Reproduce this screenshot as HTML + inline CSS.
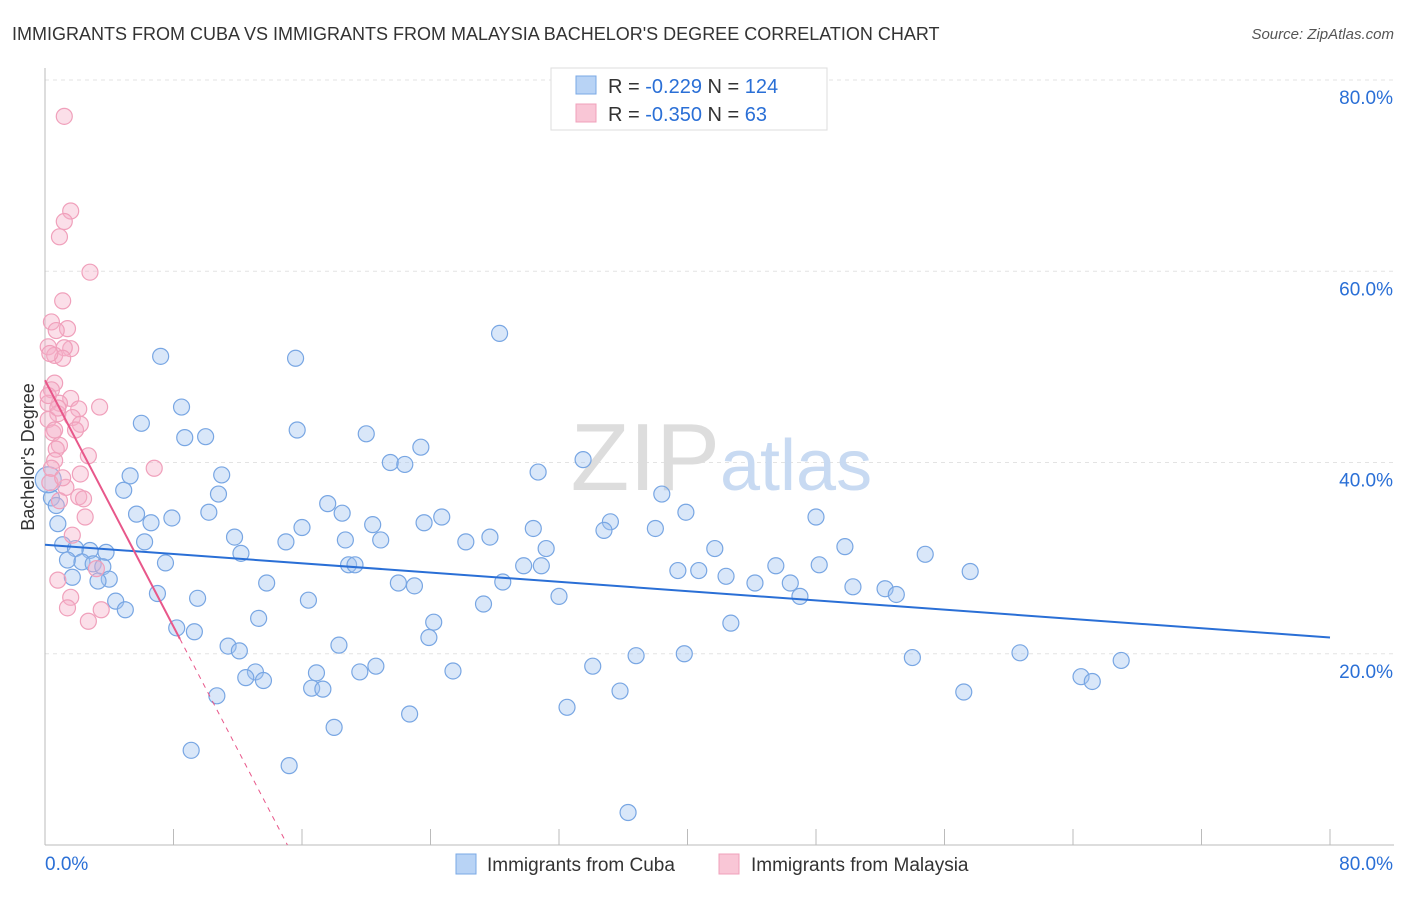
<!DOCTYPE html>
<html><head><meta charset="utf-8"><style>
body{margin:0;background:#fff;font-family:"Liberation Sans",sans-serif;}
svg text{font-family:"Liberation Sans",sans-serif;}
</style></head><body>
<svg id="chart" width="1406" height="892">
<text x="12" y="40" font-size="18" fill="#333">IMMIGRANTS FROM CUBA VS IMMIGRANTS FROM MALAYSIA BACHELOR'S DEGREE CORRELATION CHART</text>
<text x="1394" y="39" font-size="15" fill="#555" font-style="italic" text-anchor="end">Source: ZipAtlas.com</text>
<g id="grid"></g>
<text x="720" y="490" font-size="96" fill="#ddd" text-anchor="end" font-family="Liberation Serif">ZIP</text>
<text x="720" y="490" font-size="72" fill="#c8daf2">atlas</text>
<g id="axes"></g>
<g id="pts"></g>
<g id="trends"></g>
<text transform="translate(34,457) rotate(-90)" font-size="18" fill="#333" text-anchor="middle">Bachelor's Degree</text>
<g>
<rect x="551" y="68" width="276" height="62" fill="#fff" stroke="#ddd"/>
<rect x="576" y="76" width="20" height="18" fill="#b8d3f5" stroke="#7aa8e5"/>
<rect x="576" y="104" width="20" height="18" fill="#f9c6d6" stroke="#f0a0bb"/>
<text x="608" y="93" font-size="20" fill="#333">R = <tspan fill="#2a6fd6">-0.229</tspan>   N = <tspan fill="#2a6fd6">124</tspan></text>
<text x="608" y="121" font-size="20" fill="#333">R = <tspan fill="#2a6fd6">-0.350</tspan>   N = <tspan fill="#2a6fd6">  63</tspan></text>
</g>
<g>
<rect x="456" y="854" width="20" height="20" fill="#b8d3f5" stroke="#7aa8e5"/>
<text x="487" y="871" font-size="19" fill="#333">Immigrants from Cuba</text>
<rect x="719" y="854" width="20" height="20" fill="#f9c6d6" stroke="#f0a0bb"/>
<text x="751" y="871" font-size="19" fill="#333">Immigrants from Malaysia</text>
</g>
</svg>
<script>
const yTicks=[20,40,60,80];
const yTickLabels=["20.0%","40.0%","60.0%","80.0%"];
const xTicks=[0,8,16,24,32,40,48,56,64,72,80];
const cubaX=[7.2,15.6,28.3,8.5,6.0,8.7,10.0,15.7,20.0,23.4,21.5,22.4,33.5,30.7,5.3,11.0,4.9,10.8,10.2,5.7,7.9,6.6,0.8,17.6,18.5,16.0,20.4,23.6,24.7,30.4,35.2,38.0,39.9,38.4,34.8,48.0,11.8,15.0,18.7,20.9,26.2,27.7,31.2,6.2,1.1,1.9,2.8,3.8,12.2,41.7,49.8,54.8,7.5,1.4,2.3,3.0,3.6,18.9,19.3,29.8,30.9,39.4,40.7,42.4,45.5,48.2,57.6,1.7,4.0,3.3,13.8,22.0,23.0,28.5,44.2,46.4,50.3,52.3,53.0,47.0,7.0,9.5,16.4,32.0,4.4,5.0,27.3,13.3,24.2,42.7,8.2,9.3,23.9,11.4,18.3,12.1,34.1,36.8,39.8,54.0,60.7,67.0,13.1,12.5,13.6,16.9,19.6,20.6,25.4,64.5,65.2,16.6,17.3,35.8,57.2,10.7,22.7,32.5,18.0,9.1,15.2,36.3,0.4,0.2,0.7];
const cubaY=[51.1,50.9,53.5,45.8,44.1,42.6,42.7,43.4,43.0,41.6,40.0,39.8,40.3,39.0,38.6,38.7,37.1,36.7,34.8,34.6,34.2,33.7,33.6,35.7,34.7,33.2,33.5,33.7,34.3,33.1,33.8,33.1,34.8,36.7,32.9,34.3,32.2,31.7,31.9,31.9,31.7,32.2,31.0,31.7,31.4,31.0,30.8,30.6,30.5,31.0,31.2,30.4,29.5,29.8,29.6,29.4,29.1,29.3,29.3,29.2,29.2,28.7,28.7,28.1,29.2,29.3,28.6,28.0,27.8,27.6,27.4,27.4,27.1,27.5,27.4,27.4,27.0,26.8,26.2,26.0,26.3,25.8,25.6,26.0,25.5,24.6,25.2,23.7,23.3,23.2,22.7,22.3,21.7,20.8,20.9,20.3,18.7,19.8,20.0,19.6,20.1,19.3,18.1,17.5,17.2,18.0,18.1,18.7,18.2,17.6,17.1,16.4,16.3,16.1,16.0,15.6,13.7,14.4,12.3,9.9,8.3,3.4,36.3,38.2,35.5];
const malX=[1.2,1.6,1.2,0.9,2.8,1.1,0.4,1.4,0.7,0.2,1.6,1.2,0.6,1.1,0.3,0.6,0.4,1.6,0.9,0.2,3.4,2.1,0.8,1.7,0.2,2.2,0.5,0.9,0.7,2.7,0.6,6.8,2.2,0.3,1.3,2.1,2.4,0.9,2.5,1.7,0.8,1.6,1.4,3.5,2.7,3.2,0.4,1.1,0.6,1.9,0.2,0.8];
const malY=[76.2,66.3,65.2,63.6,59.9,56.9,54.7,54.0,53.8,52.1,51.9,52.0,51.2,50.9,51.4,48.3,47.6,46.7,46.2,46.2,45.8,45.6,45.1,44.7,44.5,44.0,43.1,41.8,41.4,40.7,40.2,39.4,38.8,37.9,37.4,36.4,36.2,36.0,34.3,32.4,27.7,25.9,24.8,24.6,23.4,28.9,39.4,38.4,43.4,43.4,47.0,45.7];
const cubaTrend=[31.4,21.7];
const malTrend=[48.6,-3.22];
const NS="http://www.w3.org/2000/svg";
const X=v=>45+v*(1285/80), Y=v=>845-v*(765/80);
function mk(tag,attrs,parent){const e=document.createElementNS(NS,tag);for(const k in attrs)e.setAttribute(k,attrs[k]);parent.appendChild(e);return e;}
const grid=document.getElementById('grid'),axes=document.getElementById('axes'),pts=document.getElementById('pts'),tr=document.getElementById('trends');
yTicks.forEach((t,i)=>{const l=mk('line',{x1:45,x2:1394,y1:Y(t),y2:Y(t),stroke:'#e3e3e3','stroke-dasharray':'4,4'},grid);


const tx=mk('text',{x:1393,y:Y(t)+24,'font-size':19,fill:'#2a6fd6','text-anchor':'end'},grid);tx.textContent=yTickLabels[i];

});
mk('line',{x1:45,x2:45,y1:68,y2:845,stroke:'#bbb'},axes);
mk('line',{x1:45,x2:1394,y1:845,y2:845,stroke:'#bbb'},axes);
xTicks.forEach(t=>{const l=mk('line',{x1:X(t),x2:X(t),y1:829,y2:845,stroke:'#bbb'},axes);

});
const xl0=mk('text',{x:45,y:870,'font-size':19,fill:'#2a6fd6'},axes);xl0.textContent='0.0%';


const xl1=mk('text',{x:1393,y:870,'font-size':19,fill:'#2a6fd6','text-anchor':'end'},axes);xl1.textContent='80.0%';


cubaX.forEach((x,i)=>{const c=mk('circle',{cx:X(x),cy:Y(cubaY[i]),r:(i==cubaX.length-2)?13:8,fill:'rgba(160,196,240,0.4)',stroke:'#78a6e3','stroke-width':1.2},pts);

});
malX.forEach((x,i)=>{const c=mk('circle',{cx:X(x),cy:Y(malY[i]),r:8,fill:'rgba(246,176,200,0.4)',stroke:'#f0a0bb','stroke-width':1.2},pts);

});
const bl=mk('line',{x1:X(0),y1:Y(cubaTrend[0]),x2:X(80),y2:Y(cubaTrend[0]+(cubaTrend[1]-cubaTrend[0])),stroke:'#2a6fd6','stroke-width':2},tr);


const xe=8.4, xz=-malTrend[0]/malTrend[1];
const pl=mk('line',{x1:X(0),y1:Y(malTrend[0]),x2:X(xe),y2:Y(malTrend[0]+malTrend[1]*xe),stroke:'#e8578a','stroke-width':2},tr);


const pd=mk('line',{x1:X(xe),y1:Y(malTrend[0]+malTrend[1]*xe),x2:X(xz),y2:Y(0),stroke:'#e8578a','stroke-width':1,'stroke-dasharray':'5,5'},tr);


</script>
</body></html>
